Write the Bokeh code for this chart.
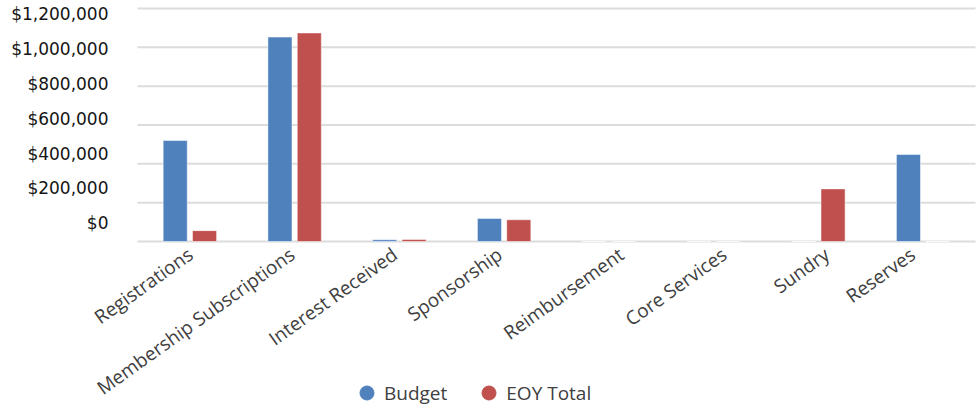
from bokeh.plotting import figure
from bokeh.models import Range1d, Legend, LegendItem, ColumnDataSource
from bokeh.core.properties import value
from bokeh.transform import dodge
from bokeh.embed import file_html
from bokeh.resources import INLINE

categories = ["Registrations", "Membership Subscriptions", "Interest Received",
              "Sponsorship", "Reimbursement", "Core Services", "Sundry", "Reserves"]
budget = [520000, 1053000, 9000, 119000, 0, 0, 0, 448000]
eoy_total = [56000, 1074000, 10000, 112000, 0, 0, 271000, 0]
y_ticks = [0, 200000, 400000, 600000, 800000, 1000000, 1200000]
y_tick_labels = ["$0", "$200,000", "$400,000", "$600,000", "$800,000",
                 "$1,000,000", "$1,200,000"]
series_names = ["Budget", "EOY Total"]
colors = ["#4F81BD", "#C0504D"]

# small horizontal nudges (px) of the rotated category labels, as placed in the source
label_nudge = [-7, -10, -12, -12, 5, 3, 1, -18]

n = len(categories)
src = ColumnDataSource(dict(x=[i + 0.5 for i in range(n)], cat=categories,
                            budget=budget, eoy=eoy_total, dx=label_nudge))

# The frame covers the whole figure; category slots start 137px from the left,
# value 0 sits at the baseline and 1,200,000 near the top.
p = figure(x_range=Range1d(-1.30788, 8.00954),
           y_range=Range1d(-849785, 1241202),
           width=976, height=406, output_backend="svg", toolbar_location=None,
           x_axis_location=None, y_axis_location=None,
           min_border_left=0, min_border_right=0,
           min_border_top=0, min_border_bottom=0)
p.outline_line_color = None
p.background_fill_color = "white"
p.grid.visible = False

# gridlines across the category area
p.segment(x0=0, x1=n, y0=y_ticks, y1=y_ticks, line_color="#DCDCDC", line_width=2)

# value labels (set slightly tighter than the gridlines, as in the source)
p.extra_y_ranges = {"lab": Range1d(-1053957, 1280492)}
p.text(x=0, y=y_ticks, text=y_tick_labels, y_range_name="lab",
       x_offset=-29, text_align="right", text_baseline="middle",
       text_font=value("DejaVu Sans"), text_font_size="17px", text_color="#141414")

r1 = p.vbar(x=dodge("x", -0.14), top="budget", width=0.23,
            source=src, fill_color=colors[0], line_color="white", line_alpha=0.5)
r2 = p.vbar(x=dodge("x", 0.14), top="eoy", width=0.23,
            source=src, fill_color=colors[1], line_color="white", line_alpha=0.5)

# category labels, rotated
p.text(x="x", y=0, text="cat", source=src, x_offset="dx", y_offset=0,
       angle=0.62, text_align="right", text_baseline="top",
       text_font=value("Open Sans"), text_font_size="19px", text_color="#404040")

nan = float("nan")
m1 = p.scatter(x=[nan], y=[nan], marker="circle", fill_color=colors[0], line_color=colors[0])
m2 = p.scatter(x=[nan], y=[nan], marker="circle", fill_color=colors[1], line_color=colors[1])

legend = Legend(items=[LegendItem(label=series_names[0], renderers=[m1]),
                       LegendItem(label=series_names[1], renderers=[m2])],
                orientation="horizontal", location=(349, -4),
                glyph_width=35, glyph_height=35, label_standoff=0, spacing=24,
                padding=0, margin=0, border_line_color=None,
                background_fill_alpha=0,
                label_text_font="Open Sans", label_text_font_size="19px",
                label_text_color="#404040")
p.add_layout(legend, "center")

open("out.html", "w").write(file_html(p, INLINE))
